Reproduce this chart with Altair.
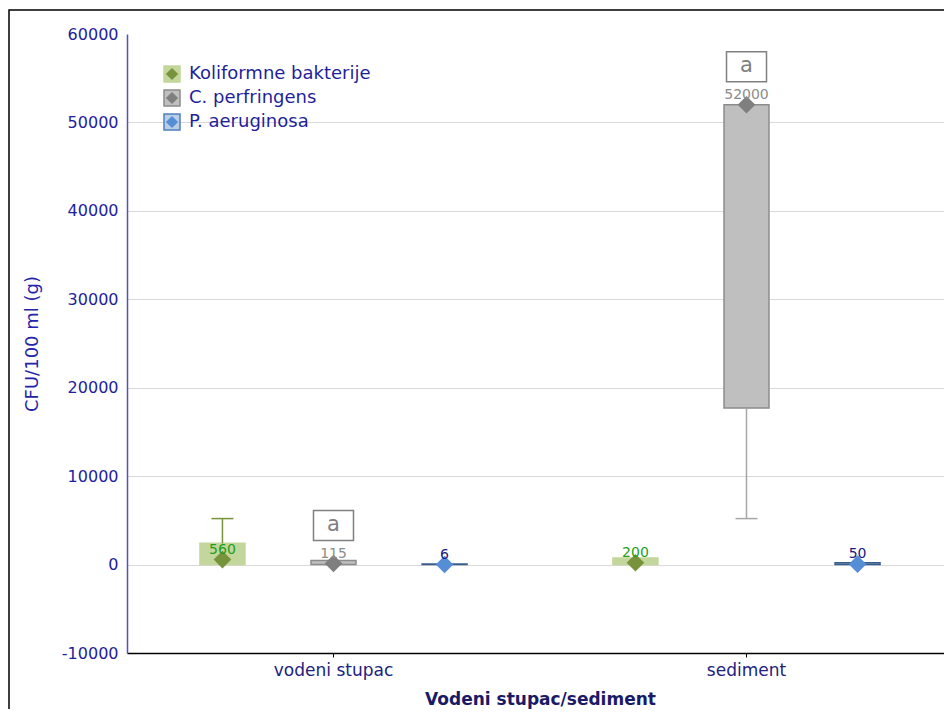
import altair as alt
import pandas as pd

categories = ["vodeni stupac", "sediment"]
series = ["Koliformne bakterije", "C. perfringens", "P. aeruginosa"]

# values per category (rows) and series (columns)
box_low = [[0, 0, 0], [0, 17700, 0]]
box_high = [[2400, 450, 60], [750, 52000, 200]]
medians = [[560, 115, 6], [200, 52000, 50]]
whisker_min = [[0, 0, 0], [0, 5200, 0]]
whisker_max = [[5200, 450, 60], [750, 52000, 200]]
letters = [["", "a", ""], ["", "a", ""]]

y_ticks = [-10000, 0, 10000, 20000, 30000, 40000, 50000, 60000]

rows, wrows, caps, lrows = [], [], [], []
for ci, c in enumerate(categories):
    for si, s in enumerate(series):
        rows.append(dict(category=c, series=s, box_low=box_low[ci][si],
                         box_high=box_high[ci][si], median=medians[ci][si],
                         label=str(medians[ci][si])))
        if whisker_min[ci][si] < box_low[ci][si]:
            wrows.append(dict(category=c, series=s, lo=whisker_min[ci][si], hi=box_low[ci][si]))
            caps.append(dict(category=c, series=s, value=whisker_min[ci][si]))
        if whisker_max[ci][si] > box_high[ci][si]:
            wrows.append(dict(category=c, series=s, lo=box_high[ci][si], hi=whisker_max[ci][si]))
            caps.append(dict(category=c, series=s, value=whisker_max[ci][si]))
        if letters[ci][si]:
            lrows.append(dict(category=c, series=s, median=medians[ci][si], letter=letters[ci][si]))

df = pd.DataFrame(rows)
wdf = pd.DataFrame(wrows)
cdf = pd.DataFrame(caps)
ldf = pd.DataFrame(lrows)
legend_df = pd.DataFrame({"series": series})

FONT = "DejaVu Sans"

styles = {
    "Koliformne bakterije": dict(fill="#c3d69b", stroke="#c3d69b", marker="#77933c",
                                 whisker="#77933c", text="#1f9e1f",
                                 lfill="#c3d69b", lstroke="#c3d69b"),
    "C. perfringens": dict(fill="#bfbfbf", stroke="#8c8c8c", marker="#7f7f7f",
                           whisker="#a6a6a6", text="#8c8c8c",
                           lfill="#bfbfbf", lstroke="#8c8c8c"),
    "P. aeruginosa": dict(fill="#b9cde5", stroke="#385d8a", marker="#558ed5",
                          whisker="#385d8a", text="#1a1a80",
                          lfill="#b9cde5", lstroke="#4f7fbf"),
}

x_enc = alt.X("category:N", sort=categories, title="Vodeni stupac/sediment",
              scale=alt.Scale(domain=categories, paddingInner=0, paddingOuter=0,
                              range=[0, 826]),
              axis=alt.Axis(labelAngle=0, labelFontSize=17, labelColor="#22227e",
                            tickSize=4, tickColor="#000000", domainColor="#000000",
                            domainWidth=1.5, labelPadding=5, titleFontSize=17,
                            titleFontWeight="bold", titleColor="#1a1a66",
                            titlePadding=13, grid=False))
xo_enc = alt.XOffset("series:N", sort=series,
                     scale=alt.Scale(domain=series, paddingInner=0.595, paddingOuter=0.657))
y_scale = alt.Scale(domain=[-10000, 60000], nice=False, zero=False)
y_axis = alt.Axis(values=y_ticks, labelExpr="'' + datum.value", labelFontSize=16,
                  labelColor="#1e1e9e", ticks=False, labelPadding=9,
                  domainColor="#5050c8", domainWidth=1.5,
                  gridColor=alt.condition("datum.value == 60000", alt.value("transparent"),
                                          alt.value("#d9d9d9")),
                  title="CFU/100 ml (g)", titleFontSize=18, titleFontWeight="normal",
                  titleColor="#2424a8", titleX=-95, titleY=309.5, titleAngle=270,
                  titleBaseline="middle")

frame = alt.Chart(pd.DataFrame({"k": [0]})).mark_rect(
    fillOpacity=0, stroke="#000000", strokeWidth=1.5
).encode(x=alt.value(-118), x2=alt.value(860), y=alt.value(-24), y2=alt.value(760))

layers = [frame]
for i, s in enumerate(series):
    st = styles[s]
    flt = alt.datum.series == s
    bars = alt.Chart(df).transform_filter(flt).mark_bar(
        fill=st["fill"], stroke=st["stroke"], strokeWidth=1.5
    ).encode(x=x_enc, xOffset=xo_enc,
             y=alt.Y("box_low:Q", scale=y_scale, axis=y_axis), y2="box_high:Q")
    layers.append(bars)
    if s in set(wdf["series"]):
        wh = alt.Chart(wdf).transform_filter(flt).mark_rule(
            color=st["whisker"], strokeWidth=1.5
        ).encode(x=x_enc, xOffset=xo_enc, y=alt.Y("lo:Q", scale=y_scale), y2="hi:Q")
        cp = alt.Chart(cdf).transform_filter(flt).mark_tick(
            color=st["whisker"], size=22, thickness=1.5, orient="horizontal", opacity=1
        ).encode(x=x_enc, xOffset=xo_enc, y=alt.Y("value:Q", scale=y_scale))
        layers += [wh, cp]
    pts = alt.Chart(df).transform_filter(flt).mark_point(
        shape="diamond", filled=True, size=310, color=st["marker"], opacity=1
    ).encode(x=x_enc, xOffset=xo_enc, y=alt.Y("median:Q", scale=y_scale))
    txt = alt.Chart(df).transform_filter(flt).mark_text(
        dy=-10, fontSize=14, color=st["text"], baseline="middle"
    ).encode(x=x_enc, xOffset=xo_enc, y=alt.Y("median:Q", scale=y_scale), text="label:N")
    layers += [pts, txt]

    lsq = alt.Chart(legend_df).transform_filter(flt).mark_square(
        size=256, fill=st["lfill"], stroke=st["lstroke"], strokeWidth=1.5, opacity=1
    ).encode(x=alt.value(45), y=alt.value(40 + 24 * i))
    ldi = alt.Chart(legend_df).transform_filter(flt).mark_point(
        shape="diamond", filled=True, size=150, color=st["marker"], opacity=1
    ).encode(x=alt.value(45), y=alt.value(40 + 24 * i))
    ltx = alt.Chart(legend_df).transform_filter(flt).mark_text(
        align="left", baseline="middle", fontSize=18, color="#1f1f9a"
    ).encode(x=alt.value(62), y=alt.value(40 + 24 * i), text="series:N")
    layers += [lsq, ldi, ltx]

box_path = "M-1,-2.65L1,-2.65L1,-1.15L-1,-1.15Z"
lbox = alt.Chart(ldf).mark_point(
    shape=box_path, size=1600, fill="#ffffff", filled=True, stroke="#808080",
    strokeWidth=1.5, opacity=1
).encode(x=x_enc, xOffset=xo_enc, y=alt.Y("median:Q", scale=y_scale))
ltxt = alt.Chart(ldf).mark_text(
    dy=-39, fontSize=21, color="#808080", baseline="middle"
).encode(x=x_enc, xOffset=xo_enc, y=alt.Y("median:Q", scale=y_scale), text="letter:N")
layers += [lbox, ltxt]

chart = alt.layer(*layers).properties(
    width=817, height=619,
    padding={"left": 119, "top": 26, "right": 0, "bottom": 56},
    autosize=alt.AutoSizeParams(type="none"),
    background="#ffffff",
).configure(font=FONT).configure_view(stroke="transparent")

chart.save("out.html", embed_options={"renderer": "svg", "actions": False})
